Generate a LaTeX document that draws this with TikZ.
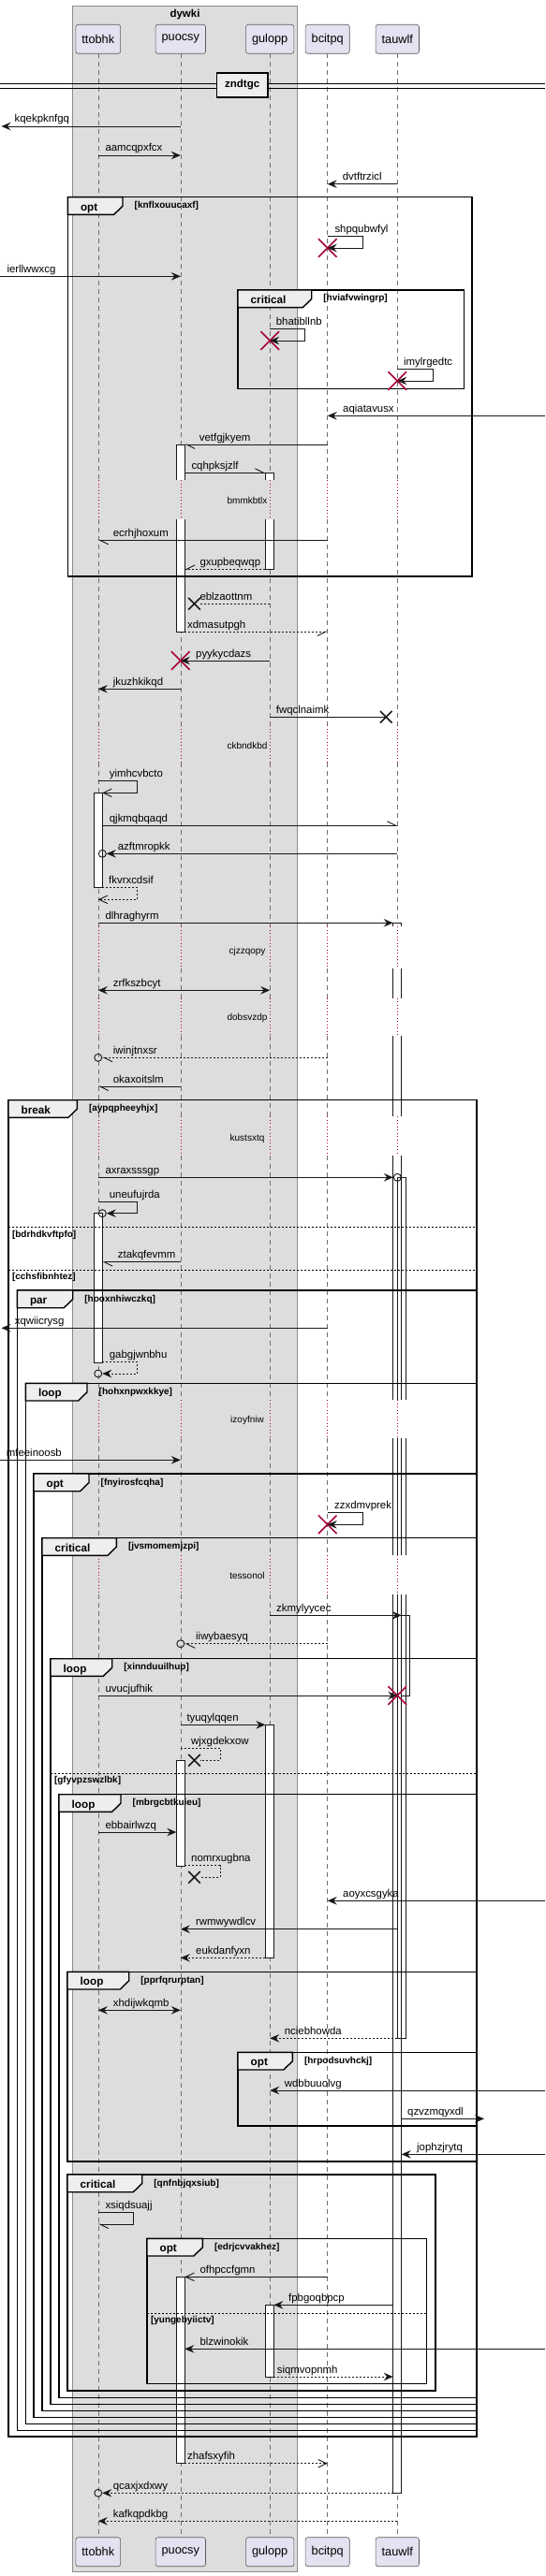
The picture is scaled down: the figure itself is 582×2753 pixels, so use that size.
\documentclass[tikz,border=0pt]{standalone}
\usepackage{fontspec}
\setmainfont{Liberation Sans}
\usetikzlibrary{arrows.meta,shapes.misc}

\definecolor{ink}{HTML}{181818}
\definecolor{groupgray}{HTML}{DDDDDD}
\definecolor{groupline}{HTML}{8C8C8C}
\definecolor{partfill}{HTML}{E2E2F0}
\definecolor{partline}{HTML}{5A5A5A}
\definecolor{tabgray}{HTML}{EEEEEE}
\definecolor{killred}{HTML}{A80036}
\definecolor{lifegray}{HTML}{6E6E6E}

\tikzset{
  part/.style={draw=partline, fill=partfill, rounded corners=2.5pt, line width=0.6pt,
    minimum height=31pt, inner xsep=6.5pt, font=\fontsize{12.75}{14}\selectfont},
  lifeline/.style={draw=lifegray, line width=0.6pt, dash pattern=on 5pt off 4pt},
  delayline/.style={draw=killred, line width=0.6pt, dash pattern=on 1pt off 2.5pt},
  act/.style={draw=ink, line width=0.8pt, fill=white},
  frameline/.style={draw=black, line width=1.4pt},
  sepline/.style={draw=black, line width=0.8pt, dash pattern=on 2pt off 2pt},
  line/.style={draw=ink, line width=0.9pt},
  msg/.style={line, -{Stealth[length=10pt,width=8.5pt,inset=3.5pt]}},
  open/.style={line, -{Straight Barb[length=9pt,width=8.5pt]}},
  halfL/.style={line, -{Straight Barb[length=9pt,width=9pt,left]}},
  halfR/.style={line, -{Straight Barb[length=9pt,width=9pt,right]}},
  both/.style={line, {Stealth[length=10pt,width=8.5pt,inset=3.5pt]}-{Stealth[length=10pt,width=8.5pt,inset=3.5pt]}},
  reply/.style={dash pattern=on 2pt off 2pt},
  lbl/.style={anchor=base west, inner sep=0pt, font=\fontsize{11.4}{13}\selectfont},
  delaylbl/.style={inner sep=0pt, font=\fontsize{10}{12}\selectfont},
  framelbl/.style={anchor=base west, inner sep=0pt, font=\bfseries\fontsize{11.7}{13}\selectfont},
  guardlbl/.style={anchor=base west, inner sep=0pt, font=\bfseries\fontsize{10}{12}\selectfont},
  endcirc/.style={circle, draw=ink, line width=0.9pt, minimum size=8pt, inner sep=0pt},
  killx/.style={cross out, draw=killred, line width=1.6pt, minimum size=18pt, inner sep=0pt},
  lostx/.style={cross out, draw=ink, line width=1.6pt, minimum size=11pt, inner sep=0pt},
}

% frame: left, top, right, bottom, tab right, label, guard, name
\newcommand{\frm}[8]{%
  \draw[frameline] (#1,#2) rectangle (#3,#4);
  \draw[frameline, fill=tabgray] (#1,#2) -- (#5,#2) -- (#5,#2+9.5) -- (#5-9.5,#2+18.7) -- (#1,#2+18.7) -- cycle;
  \node[framelbl] (#8t) at (#1+13.5,#2+14.5) {#6};
  \node[guardlbl] (#8g) at (#5+12.5,#2+12) {#7};}
% else line: left, right, y, guard, name
\newcommand{\frmsep}[5]{%
  \draw[sepline] (#1,#3) -- (#2,#3);
  \node[guardlbl] (#5) at (#1+3.8,#3+10.5) {#4};}
% activation pieces: x1, x2, y1, y2
\newcommand{\actfull}[4]{\draw[act] (#1,#3) rectangle (#2,#4);}
\newcommand{\acttop}[4]{\draw[act] (#1,#4) -- (#1,#3) -- (#2,#3) -- (#2,#4);}
\newcommand{\actbot}[4]{\draw[act] (#1,#3) -- (#1,#4) -- (#2,#4) -- (#2,#3);}
\newcommand{\actmid}[4]{\fill[white] (#1,#3) rectangle (#2,#4);
  \draw[act] (#1,#3) -- (#1,#4) (#2,#3) -- (#2,#4);}

\begin{document}
\begin{tikzpicture}
      [x=1pt,y=-1pt,line cap=butt,line join=miter]
\useasboundingbox (0,0) rectangle (582,2753);

%group box
\draw[fill=groupgray, draw=groupline, line width=0.7pt] (77.7,6) rectangle (317.3,2748.3);
\node[anchor=base, inner sep=0pt, font=\bfseries\fontsize{11.5}{13}\selectfont] (grp) at (197.5,18.7) {dywki};

%participants top and bottom
\node[part] (ttobhk) at (104.8,41.8) {ttobhk};
\node[part] (puocsy) at (192.8,41.8) {puocsy};
\node[part] (gulopp) at (288.2,41.8) {gulopp};
\node[part] (bcitpq) at (349.7,41.8) {bcitpq};
\node[part] (tauwlf) at (424.3,41.8) {tauwlf};
\node[part] (ttobhk2) at (104.8,2727.2) {ttobhk};
\node[part] (puocsy2) at (192.8,2727.2) {puocsy};
\node[part] (gulopp2) at (288.2,2727.2) {gulopp};
\node[part] (bcitpq2) at (349.7,2727.2) {bcitpq};
\node[part] (tauwlf2) at (424.3,2727.2) {tauwlf};

%activation edges and outer ends
\coordinate (ttR) at (109.3,0);
\coordinate (puL) at (188.3,0);
\coordinate (puR) at (197.3,0);
\coordinate (guL) at (283.3,0);
\coordinate (guR) at (292.3,0);
\coordinate (taL) at (419.7,0);
\coordinate (taR) at (428.7,0);
\coordinate (lft) at (1.5,0);
\coordinate (lft0) at (0,0);
\coordinate (rgt) at (582,0);
\coordinate (outR) at (517,0);

%lifelines, dotted where delayed
\foreach \p in {ttobhk,puocsy,gulopp,bcitpq,tauwlf}{
  \foreach \a/\b in {57.3/513.3,555/775,815/990,1035/1066.7,1106.7/1193.3,1235/1496,1536.7/1662.3,1704.3/2711.7}
    \draw[lifeline] (\p |- 0,\a) -- (\p |- 0,\b);
  \foreach \a/\b in {513.3/555,775/815,990/1035,1066.7/1106.7,1193.3/1235,1496/1536.7,1662.3/1704.3}
    \draw[delayline] (\p |- 0,\a) -- (\p |- 0,\b);
}

%divider
\draw[line width=1pt] (0,90) -- (582,90) (0,94.3) -- (582,94.3);
\node[draw=black, line width=1.6pt, fill=tabgray, minimum width=54.7pt, minimum height=26pt,
  inner sep=0pt, font=\bfseries\fontsize{11.5}{13}\selectfont] (div) at (258.7,91) {zndtgc};

%activations
\acttop{188.3}{197.3}{475}{513.3}
\actbot{188.3}{197.3}{555}{675}
\acttop{283.3}{292.3}{505.3}{513.3}
\actbot{283.3}{292.3}{555}{608.3}
\actfull{100}{109.3}{847.3}{948.3}
\acttop{419.7}{428.7}{986.3}{990}
\actmid{419.7}{428.7}{1035}{1066.7}
\actmid{419.7}{428.7}{1106.7}{1193.3}
\actmid{419.7}{428.7}{1235}{1496}
\actmid{419.7}{428.7}{1536.7}{1662.3}
\actbot{419.7}{428.7}{1704.3}{2664.3}
\actfull{100}{109.3}{1296.7}{1456}
\draw[act, fill=none] (424,1496) -- (424,1258.3) -- (433,1258.3) -- (433,1496);
\draw[act, fill=none] (424,1536.7) -- (424,1662.3) (433,1536.7) -- (433,1662.3);
\draw[act, fill=none] (424,1704.3) -- (424,2178.3) -- (433,2178.3) -- (433,1704.3);
\draw[act, fill=none] (428.7,1726.3) rectangle (437.7,1812);
\actfull{283.3}{292.3}{1843.3}{2092.3}
\actfull{188.3}{197.3}{1881.7}{1994}
\actfull{188.3}{197.3}{2433.3}{2632.7}
\actfull{283.3}{292.3}{2463.3}{2540}

%frames
\frm{72.3}{210.7}{504}{616}{131}{opt}{[knflxouucaxf]}{f01}
\frm{254}{310}{495.3}{415.3}{332.7}{critical}{[hviafvwingrp]}{f02}
\frm{9}{1175.7}{509}{2604}{82.3}{break}{[aypqpheeyhjx]}{f03}
\frmsep{9}{509}{1311.7}{[bdrhdkvftpfo]}{s01}
\frmsep{9}{509}{1357.3}{[cchsfibnhtez]}{s02}
\frm{18.3}{1379}{508.3}{2597.3}{77.7}{par}{[hooxnhiwczkq]}{f04}
\frm{27.3}{1478.3}{508.3}{2590.7}{93}{loop}{[hohxnpwxkkye]}{f05}
\frm{36}{1575}{508.3}{2583.3}{95}{opt}{[fnyirosfcqha]}{f06}
\frm{45}{1643.7}{508.3}{2576.7}{124.3}{critical}{[jvsmomemjzpi]}{f07}
\frm{54}{1772.7}{508.3}{2569.3}{119.7}{loop}{[xinnduuilhup]}{f08}
\frmsep{54}{508.3}{1895.3}{[gfyvpzswzlbk]}{s03}
\frm{63}{1917.7}{508.3}{2562.3}{129}{loop}{[mbrgcbtkuieu]}{f09}
\frm{72}{2107.3}{508.3}{2310}{137.7}{loop}{[pprfqrurptan]}{f10}
\frm{254}{2193.3}{508.3}{2272}{312.3}{opt}{[hrpodsuvhckj]}{f11}
\frm{72}{2324}{465}{2555}{151.7}{critical}{[qnfnbjqxsiub]}{f12}
\frm{157}{2392.3}{455.7}{2547.3}{216.3}{opt}{[edrjcvvakhez]}{f13}
\frmsep{157}{455.7}{2472.3}{[yungebyiictv]}{s04}

%delays
\node[delaylbl] (d1) at (264,535.3) {bmmkbtlx};
\node[delaylbl] (d2) at (264,796.7) {ckbndkbd};
\node[delaylbl] (d3) at (264,1016.7) {cjzzqopy};
\node[delaylbl] (d4) at (264,1088.3) {dobsvzdp};
\node[delaylbl] (d5) at (264,1216.7) {kustsxtq};
\node[delaylbl] (d6) at (264,1518.3) {izoyfniw};
\node[delaylbl] (d7) at (264,1684) {tessonol};

%end marks
\node[killx] (x01) at (bcitpq |- 0,265) {};
\node[killx] (x02) at (gulopp |- 0,364) {};
\node[killx] (x03) at (tauwlf |- 0,407) {};
\node[lostx] (x04) at (207.5,645.3) {};
\node[killx] (x05) at (puocsy |- 0,706) {};
\node[lostx] (x06) at (412.3,766.3) {};
\node[killx] (x07) at (bcitpq |- 0,1629.3) {};
\node[killx] (x08) at (tauwlf |- 0,1812) {};
\node[lostx] (x09) at (207.5,1881.3) {};
\node[lostx] (x10) at (207.5,2006.3) {};
\node[endcirc] (c01) at (ttR |- 0,912.3) {};
\node[endcirc] (c02) at (ttobhk |- 0,1130.3) {};
\node[endcirc] (c03) at (tauwlf |- 0,1258.3) {};
\node[endcirc] (c04) at (ttR |- 0,1296.7) {};
\node[endcirc] (c05) at (ttobhk |- 0,1468) {};
\node[endcirc] (c06) at (puocsy |- 0,1756.7) {};
\node[endcirc] (c07) at (ttobhk |- 0,2664.3) {};

%messages
\draw[msg] (puocsy |- 0,135) -- (lft |- 0,135);
\node[lbl] (m01) at (15.5,131) {kqekpknfgq};
\draw[msg] (ttobhk |- 0,166) -- (puocsy |- 0,166);
\node[lbl] (m02) at (112.3,162) {aamcqpxfcx};
\draw[msg] (tauwlf |- 0,196.7) -- (bcitpq |- 0,196.7);
\node[lbl] (m03) at (365.7,192.7) {dvtftrzicl};
\draw[msg] (bcitpq |- 0,252.3) -- (387.3,252.3) -- (387.3,265) -- (x01.center);
\node[lbl] (m04) at (357.3,248.3) {shpqubwfyl};
\draw[msg] (lft0 |- 0,295.3) -- (puocsy |- 0,295.3);
\node[lbl] (m05) at (7.3,291.3) {ierllwwxcg};
\draw[msg] (gulopp |- 0,351.3) -- (325.3,351.3) -- (325.3,364) -- (x02.center);
\node[lbl] (m06) at (294.7,347.3) {bhatibllnb};
\draw[msg] (tauwlf |- 0,394) -- (462,394) -- (462,407) -- (x03.center);
\node[lbl] (m07) at (431,390) {imylrgedtc};
\draw[msg] (rgt |- 0,444.3) -- (bcitpq |- 0,444.3);
\node[lbl] (m08) at (366,440.3) {aqiatavusx};
\draw[halfL] (bcitpq |- 0,475) -- (puR |- 0,475);
\node[lbl] (m09) at (212.7,471) {vetfgjkyem};
\draw[halfL] (puR |- 0,505.3) -- (guL |- 0,505.3);
\node[lbl] (m10) at (204.3,501.3) {cqhpksjzlf};
\draw[halfL] (bcitpq |- 0,577.3) -- (ttobhk |- 0,577.3);
\node[lbl] (m11) at (120.7,573.3) {ecrhjhoxum};
\draw[halfR, reply] (guL |- 0,608.3) -- (puR |- 0,608.3);
\node[lbl] (m12) at (213.3,604.3) {gxupbeqwqp};
\draw[line, reply] (gulopp |- 0,645.3) -- (x04);
\node[lbl] (m13) at (213.3,641.3) {eblzaottnm};
\draw[halfR, reply] (puR |- 0,675) -- (bcitpq |- 0,675);
\node[lbl] (m14) at (200,671) {xdmasutpgh};
\draw[msg] (gulopp |- 0,706) -- (x05.center);
\node[lbl] (m15) at (209,702) {pyykycdazs};
\draw[msg] (puocsy |- 0,736.3) -- (ttobhk |- 0,736.3);
\node[lbl] (m16) at (120.7,732.3) {jkuzhkikqd};
\draw[line] (gulopp |- 0,766.3) -- (x06.center);
\node[lbl] (m17) at (294.7,762.3) {fwqclnaimk};
\draw[open] (ttobhk |- 0,834.3) -- (146.7,834.3) -- (146.7,847.3) -- (ttR |- 0,847.3);
\node[lbl] (m18) at (116.7,830.3) {yimhcvbcto};
\draw[halfL] (ttR |- 0,882.3) -- (tauwlf |- 0,882.3);
\node[lbl] (m19) at (116.7,878.3) {qjkmqbqaqd};
\draw[msg] (tauwlf |- 0,912.3) -- (c01);
\node[lbl] (m20) at (125.7,908.3) {azftmropkk};
\draw[open, reply] (ttR |- 0,948.3) -- (146.7,948.3) -- (146.7,961.3) -- (ttobhk |- 0,961.3);
\node[lbl] (m21) at (116,944.3) {fkvrxcdsif};
\draw[msg] (ttobhk |- 0,986.3) -- (taL |- 0,986.3);
\node[lbl] (m22) at (112.3,982.3) {dlhraghyrm};
\draw[both] (ttobhk |- 0,1058.3) -- (gulopp |- 0,1058.3);
\node[lbl] (m23) at (120.7,1054.3) {zrfkszbcyt};
\draw[halfL, reply] (bcitpq |- 0,1130.3) -- (c02);
\node[lbl] (m24) at (120.7,1126.3) {iwinjtnxsr};
\draw[halfL] (puocsy |- 0,1161) -- (ttobhk |- 0,1161);
\node[lbl] (m25) at (120.7,1157) {okaxoitslm};
\draw[msg] (ttobhk |- 0,1258.3) -- (c03);
\node[lbl] (m26) at (112.3,1254.3) {axraxsssgp};
\draw[msg] (ttobhk |- 0,1284.3) -- (146.7,1284.3) -- (146.7,1296.7) -- (c04);
\node[lbl] (m27) at (116.7,1280.3) {uneufujrda};
\draw[halfL] (puocsy |- 0,1348.7) -- (ttR |- 0,1348.7);
\node[lbl] (m28) at (125.7,1344.7) {ztakqfevmm};
\draw[msg] (bcitpq |- 0,1419.3) -- (lft |- 0,1419.3);
\node[lbl] (m29) at (15.7,1415.3) {xqwiicrysg};
\draw[msg, reply] (ttR |- 0,1455.3) -- (146.7,1455.3) -- (146.7,1468) -- (c05);
\node[lbl] (m30) at (116.7,1451.3) {gabgjwnbhu};
\draw[msg] (lft0 |- 0,1560.3) -- (puocsy |- 0,1560.3);
\node[lbl] (m31) at (6.7,1556.3) {mfeeinoosb};
\draw[msg] (bcitpq |- 0,1616.7) -- (387.3,1616.7) -- (387.3,1629.3) -- (x07.center);
\node[lbl] (m32) at (357,1612.7) {zzxdmvprek};
\draw[msg] (gulopp |- 0,1726.3) -- (taR |- 0,1726.3);
\node[lbl] (m33) at (295,1722.3) {zkmylyycec};
\draw[halfL, reply] (bcitpq |- 0,1756.7) -- (c06);
\node[lbl] (m34) at (209,1752.7) {iiwybaesyq};
\draw[msg] (ttobhk |- 0,1812) -- (x08.center);
\node[lbl] (m35) at (112.3,1808) {uvucjufhik};
\draw[msg] (puocsy |- 0,1843.3) -- (guL |- 0,1843.3);
\node[lbl] (m36) at (199.3,1839.3) {tyuqylqqen};
\draw[line, reply] (puocsy |- 0,1868.3) -- (235,1868.3) -- (235,1881.3) -- (x09);
\node[lbl] (m37) at (204,1864.3) {wjxgdekxow};
\draw[msg] (ttobhk |- 0,1958) -- (puL |- 0,1958);
\node[lbl] (m38) at (112.3,1954) {ebbairlwzq};
\draw[line, reply] (puR |- 0,1993.7) -- (235,1993.7) -- (235,2006.3) -- (x10);
\node[lbl] (m39) at (204,1989.7) {nomrxugbna};
\draw[msg] (rgt |- 0,2031.3) -- (bcitpq |- 0,2031.3);
\node[lbl] (m40) at (366,2027.3) {aoyxcsgyka};
\draw[msg] (tauwlf |- 0,2061.7) -- (puocsy |- 0,2061.7);
\node[lbl] (m41) at (209,2057.7) {rwmwywdlcv};
\draw[msg, reply] (guL |- 0,2092.3) -- (puocsy |- 0,2092.3);
\node[lbl] (m42) at (209,2088.3) {eukdanfyxn};
\draw[both] (ttobhk |- 0,2148.3) -- (puocsy |- 0,2148.3);
\node[lbl] (m43) at (120.7,2144.3) {xhdijwkqmb};
\draw[msg, reply] (tauwlf |- 0,2178.3) -- (gulopp |- 0,2178.3);
\node[lbl] (m44) at (303.7,2174.3) {nciebhowda};
\draw[msg] (rgt |- 0,2234) -- (gulopp |- 0,2234);
\node[lbl] (m45) at (303.7,2230) {wdbbuuolvg};
\draw[msg] (taR |- 0,2264.3) -- (outR |- 0,2264.3);
\node[lbl] (m46) at (435,2260.3) {qzvzmqyxdl};
\draw[msg] (rgt |- 0,2302.3) -- (taR |- 0,2302.3);
\node[lbl] (m47) at (445,2298.3) {jophzjrytq};
\draw[halfL] (ttobhk |- 0,2364.3) -- (142.3,2364.3) -- (142.3,2377) -- (ttobhk |- 0,2377);
\node[lbl] (m48) at (112.3,2360.3) {xsiqdsuajj};
\draw[open] (bcitpq |- 0,2433.3) -- (puR |- 0,2433.3);
\node[lbl] (m49) at (213.3,2429.3) {ofhpccfgmn};
\draw[msg] (taL |- 0,2463.3) -- (guR |- 0,2463.3);
\node[lbl] (m50) at (308,2459.3) {fpbgoqbpcp};
\draw[msg] (rgt |- 0,2510.3) -- (puR |- 0,2510.3);
\node[lbl] (m51) at (213.3,2506.3) {blzwinokik};
\draw[msg, reply] (guR |- 0,2540) -- (taL |- 0,2540);
\node[lbl] (m52) at (295.7,2536) {siqmvopnmh};
\draw[open, reply] (puR |- 0,2632.7) -- (bcitpq |- 0,2632.7);
\node[lbl] (m53) at (200,2628.7) {zhafsxyfih};
\draw[msg, reply] (taL |- 0,2664.3) -- (c07);
\node[lbl] (m54) at (120.7,2660.3) {qcaxjxdxwy};
\draw[msg, reply] (tauwlf |- 0,2694.3) -- (ttobhk |- 0,2694.3);
\node[lbl] (m55) at (120.7,2690.3) {kafkqpdkbg};

\end{tikzpicture}
\end{document}
